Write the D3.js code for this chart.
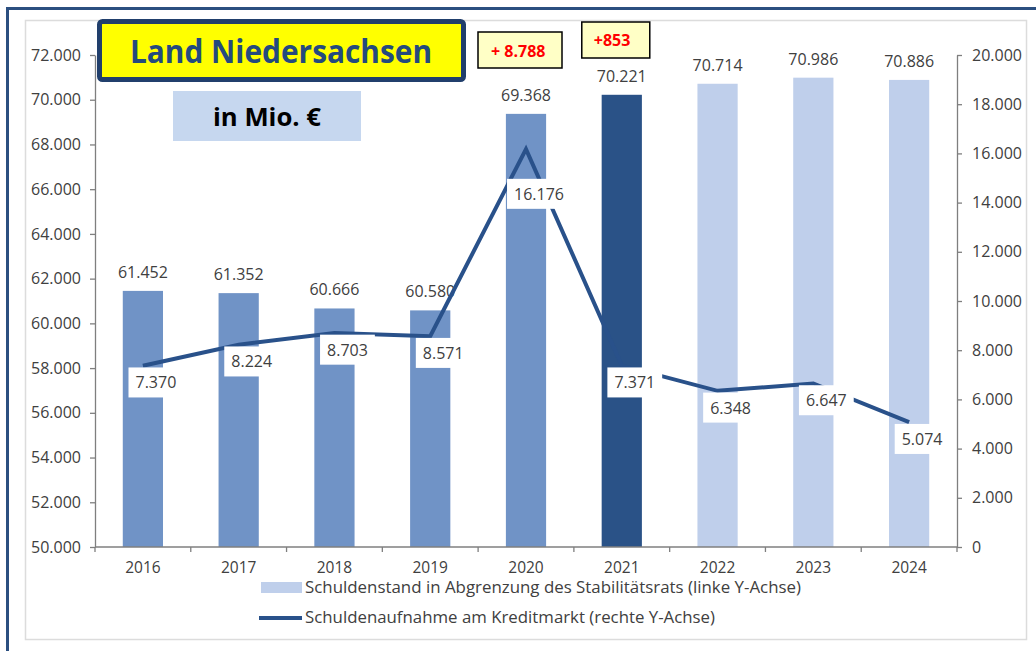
<!DOCTYPE html>
<html>
<head>
<meta charset="utf-8">
<script src="https://cdn.jsdelivr.net/npm/d3@7"></script>
<style>
  body { margin: 0; background: #fff; }
  text { font-family: "Open Sans", sans-serif; }
</style>
</head>
<body>
<svg id="chart"></svg>
<script>
// Data
var years = ["2016", "2017", "2018", "2019", "2020", "2021", "2022", "2023", "2024"];
var schuldenstand = [61452, 61352, 60666, 60580, 69368, 70221, 70714, 70986, 70886];
var kreditmarkt = [7370, 8224, 8703, 8571, 16176, 7371, 6348, 6647, 5074];
var phase = ["ist", "ist", "ist", "ist", "ist", "aktuell", "plan", "plan", "plan"];
var leftTicks = [50000, 52000, 54000, 56000, 58000, 60000, 62000, 64000, 66000, 68000, 70000, 72000];
var rightTicks = [0, 2000, 4000, 6000, 8000, 10000, 12000, 14000, 16000, 18000, 20000];
var legendLabels = ["Schuldenstand in Abgrenzung des Stabilitätsrats (linke Y-Achse)",
                    "Schuldenaufnahme am Kreditmarkt (rechte Y-Achse)"];
var annotations = ["+ 8.788", "+853"];

var W = 1036, H = 651;
var svg = d3.select("#chart").attr("width", W).attr("height", H);

var de = d3.formatLocale({ decimal: ",", thousands: ".", grouping: [3], currency: ["", " €"] });
var fmt = de.format(",.0f");

var dark = "#29518a";
var colors = d3.scaleOrdinal().domain(["ist", "aktuell", "plan"]).range(["#7093c6", "#2a5287", "#bfcfeb"]);

// frames
svg.append("rect")
    .attr("x", 7.5).attr("y", 8.5).attr("width", 1060).attr("height", 680)
    .attr("fill", "none").attr("stroke", "#2b4f80").attr("stroke-width", 3);
svg.append("rect")
    .attr("x", 25.5).attr("y", 20.5).attr("width", 1001).attr("height", 619)
    .attr("fill", "#fff").attr("stroke", "#dcdcdc").attr("stroke-width", 1.5);

// scales
var x = d3.scaleBand().domain(years).range([95, 957]).paddingInner(0.58).paddingOuter(0.29);
var yL = d3.scaleLinear().domain([50000, 72000]).range([547, 55]);
var yR = d3.scaleLinear().domain([0, 20000]).range([547, 55]);
var cx = function (d) { return x(d) + x.bandwidth() / 2; };

// bars
svg.append("g").selectAll("rect")
    .data(years)
    .enter().append("rect")
    .attr("x", function (d) { return x(d); })
    .attr("y", function (d, i) { return yL(schuldenstand[i]); })
    .attr("width", x.bandwidth())
    .attr("height", function (d, i) { return yL(50000) - yL(schuldenstand[i]); })
    .attr("fill", function (d, i) { return colors(phase[i]); });

// bar value labels
svg.append("g").selectAll("text")
    .data(years)
    .enter().append("text")
    .attr("x", cx)
    .attr("y", function (d, i) { return yL(schuldenstand[i]) - 13; })
    .attr("text-anchor", "middle")
    .attr("font-size", 16)
    .attr("fill", "#404040")
    .text(function (d, i) { return fmt(schuldenstand[i]); });

// Axes
var gL = svg.append("g")
    .attr("transform", "translate(95,0)")
    .call(d3.axisLeft(yL).tickValues(leftTicks).tickSize(5).tickSizeOuter(0).tickPadding(9).tickFormat(fmt));
var gR = svg.append("g")
    .attr("transform", "translate(957,0)")
    .call(d3.axisRight(yR).tickValues(rightTicks).tickSize(5).tickSizeOuter(0).tickPadding(10).tickFormat(fmt));
[gL, gR].forEach(function (g) {
    g.select(".domain").attr("stroke", "#7f7f7f").attr("stroke-width", 1.3);
    g.selectAll(".tick line").attr("stroke", "#7f7f7f").attr("stroke-width", 1.3);
    g.selectAll(".tick text").attr("font-size", 16).attr("fill", "#404040")
        .attr("font-family", "'Open Sans', sans-serif");
});

// x axis: line, boundary ticks, year labels
var gX = svg.append("g").attr("transform", "translate(0,547)");
gX.append("line").attr("x1", 95).attr("x2", 957)
    .attr("stroke", "#7f7f7f").attr("stroke-width", 1.3);
var bounds = years.map(function (d) { return x(d) - x.step() * x.paddingInner() / 2; }).concat([957]);
gX.selectAll(".bt").data(bounds).enter().append("line")
    .attr("x1", function (d) { return d; }).attr("x2", function (d) { return d; })
    .attr("y1", 0).attr("y2", 5)
    .attr("stroke", "#7f7f7f").attr("stroke-width", 1.3);
gX.selectAll(".yl").data(years).enter().append("text")
    .attr("x", cx).attr("y", 26)
    .attr("text-anchor", "middle")
    .attr("font-size", 15.5)
    .attr("fill", "#404040")
    .text(function (d) { return d; });

// line (right axis)
var line = d3.line()
    .x(function (d, i) { return cx(years[i]); })
    .y(function (d) { return yR(d); });
svg.append("path")
    .attr("d", line(kreditmarkt))
    .attr("fill", "none")
    .attr("stroke", dark)
    .attr("stroke-width", 4)
    .attr("stroke-linejoin", "miter");

// line labels in white boxes
var maxK = d3.max(kreditmarkt);
var lab = svg.append("g").selectAll("g")
    .data(years)
    .enter().append("g")
    .attr("transform", function (d, i) {
        var dy = kreditmarkt[i] === maxK ? 45 : 17;
        return "translate(" + (cx(d) + 13) + "," + (yR(kreditmarkt[i]) + dy) + ")";
    });
var labText = lab.append("text")
    .attr("text-anchor", "middle")
    .attr("dy", "0.36em")
    .attr("font-size", 16)
    .attr("fill", "#404040")
    .text(function (d, i) { return fmt(kreditmarkt[i]); });
labText.each(function () {
    var b = this.getBBox();
    d3.select(this.parentNode).insert("rect", "text")
        .attr("x", b.x - 7).attr("y", b.y - 4)
        .attr("width", b.width + 14).attr("height", b.height + 8)
        .attr("fill", "#fff");
});

// legend
var leg = svg.append("g");
leg.append("rect").attr("x", 261).attr("y", 582).attr("width", 41).attr("height", 11).attr("fill", colors("plan"));
leg.append("line").attr("x1", 259).attr("x2", 302).attr("y1", 618).attr("y2", 618)
    .attr("stroke", dark).attr("stroke-width", 4);
leg.selectAll("text").data(legendLabels).enter().append("text")
    .attr("x", 305)
    .attr("y", function (d, i) { return 593 + i * 30; })
    .attr("font-size", 15.5)
    .attr("fill", "#404040")
    .attr("textLength", function (d, i) { return i === 0 ? 496 : 410; })
    .attr("lengthAdjust", "spacingAndGlyphs")
    .text(function (d) { return d; });

// title box
svg.append("rect")
    .attr("x", 99.5).attr("y", 21.5).attr("width", 364).attr("height", 58).attr("rx", 3)
    .attr("fill", "#ffff00").attr("stroke", "#213f6c").attr("stroke-width", 5);
svg.append("text")
    .attr("x", 281).attr("y", 63)
    .attr("text-anchor", "middle")
    .attr("font-family", "Lato, sans-serif")
    .attr("font-weight", "bold")
    .attr("font-size", 33)
    .attr("fill", "#244a7e")
    .attr("textLength", 302).attr("lengthAdjust", "spacingAndGlyphs")
    .text("Land Niedersachsen");

svg.append("rect")
    .attr("x", 173).attr("y", 91).attr("width", 188).attr("height", 50)
    .attr("fill", "#c6d7ef");
svg.append("text")
    .attr("x", 267).attr("y", 126)
    .attr("text-anchor", "middle")
    .attr("font-family", "Lato, sans-serif")
    .attr("font-weight", "bold")
    .attr("font-size", 25)
    .attr("fill", "#000")
    .attr("textLength", 108).attr("lengthAdjust", "spacingAndGlyphs")
    .text("in Mio. €");

// change annotations above 2020 / 2021
var ann = svg.append("g").selectAll("g")
    .data(annotations)
    .enter().append("g")
    .attr("transform", function (d, i) {
        return "translate(" + (cx(years[4 + i]) - 6) + "," + (i === 0 ? 50 : 40) + ")";
    });
ann.append("rect")
    .attr("x", function (d, i) { return i === 0 ? -42 : -34; })
    .attr("y", -18)
    .attr("width", function (d, i) { return i === 0 ? 84 : 68; })
    .attr("height", 36)
    .attr("fill", "#ffffc6").attr("stroke", "#000").attr("stroke-width", 1.5);
ann.append("text")
    .attr("x", function (d, i) { return i === 0 ? -29 : -22; })
    .attr("y", function (d, i) { return i === 0 ? 7 : 6; })
    .attr("font-family", "Lato, sans-serif")
    .attr("font-weight", "bold")
    .attr("font-size", 16)
    .attr("fill", "#ff0000")
    .text(function (d) { return d; });
</script>
</body>
</html>
